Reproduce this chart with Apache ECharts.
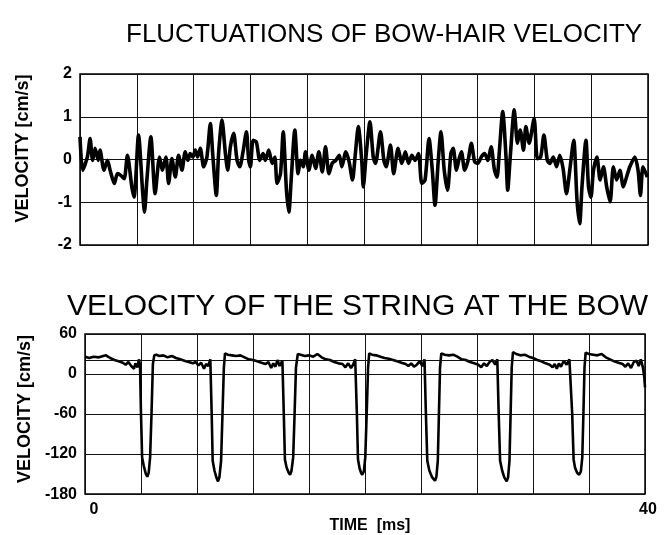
<!DOCTYPE html>
<html>
<head>
<meta charset="utf-8">
<script src="https://cdn.jsdelivr.net/npm/echarts@6/dist/echarts.min.js"></script>
<style>
html, body { margin: 0; padding: 0; background: #fff; }
#chart { width: 665px; height: 535px; }
</style>
</head>
<body>
<div id="chart"></div>
<script>
// top panel: fluctuations of bow-hair velocity (time ms, velocity cm/s)
const hairTime = [
  0, 0.19, 0.52, 0.71, 0.89, 1.06, 1.29, 1.41, 1.69, 1.93, 2.12, 2.42, 2.64, 2.87, 3.11, 3.34, 3.65, 3.81,
  4.12, 4.42, 4.54, 4.71, 4.99, 5.29, 5.6, 5.81, 6.05, 6.24, 6.47, 6.71, 6.94, 7.18, 7.41, 7.6, 7.76, 7.95,
  8.12, 8.28, 8.47, 8.71, 8.94, 9.18, 9.36, 9.6, 9.76, 10.0, 10.24, 10.4, 10.59, 10.82, 11.06, 11.25, 11.48,
  11.72, 11.88, 12.0, 12.19, 12.42, 12.66, 12.89, 13.06, 13.29, 13.53, 13.72, 13.88, 14.12, 14.31, 14.54,
  14.71, 14.87, 15.13, 15.36, 15.53, 15.72, 15.88, 16.12, 16.35, 16.59, 16.82, 17.06, 17.29, 17.53, 17.76,
  18.02, 18.26, 18.44, 18.72, 18.95, 19.19, 19.37, 19.6, 19.84, 19.95, 20.16, 20.42, 20.65, 20.81, 21.16,
  21.4, 21.56, 21.86, 22.09, 22.4, 22.67, 22.91, 23.14, 23.37, 23.6, 23.84, 24.07, 24.3, 24.58, 24.81, 25.0,
  25.23, 25.42, 25.65, 25.88, 26.12, 26.28, 26.51, 26.7, 26.86, 27.09, 27.33, 27.56, 27.79, 28.02, 28.26,
  28.49, 28.72, 28.95, 29.19, 29.37, 29.53, 29.77, 30.0, 30.12, 30.3, 30.58, 30.81, 31.0, 31.23, 31.4,
  31.63, 31.98, 32.21, 32.44, 32.67, 32.91, 33.09, 33.33, 33.56, 33.79, 34.02, 34.26, 34.49, 34.77, 35.0,
  35.19, 35.35, 35.63, 35.81, 35.98, 36.16, 36.4, 36.63, 36.86, 37.09, 37.33, 37.56, 37.79, 38.02, 38.26,
  38.49, 38.72, 39.07, 39.3, 39.47, 39.65, 39.95
];
const hairVelocity = [
  0.53, -0.25, 0.06, 0.49, -0.02, 0.26, -0.02, 0.22, -0.25, -0.02, -0.25, -0.56, -0.33, -0.37, -0.45, 0.1, -0.64, -0.88,
  0.57, -0.8, -1.23, -0.48, 0.53, -0.8, 0.06, -0.25, 0.06, -0.56, 0.02, -0.41, 0.1, -0.25, 0.18, -0.02, 0.14, 0.06,
  0.22, 0.06, 0.26, -0.17, 0.06, 0.84, 0.06, -0.84, 0.14, 0.92, 0.14, -0.25, 0.3, 0.61, -0.02, -0.17, 0.18,
  0.65, -0.02, -0.17, 0.45, 0.41, -0.02, 0.14, -0.02, 0.22, -0.09, 0.06, -0.56, -0.33, 0.65, -0.72,
  -1.23, -0.48, 0.69, -0.33, -0.02, -0.17, 0.18, -0.25, 0.1, -0.21, 0.18, -0.29, 0.3, -0.33, -0.09,
  -0.02, 0.1, -0.17, 0.18, -0.05, -0.48, 0.06, 0.77, -0.02, -0.64, 0.14, 0.88, 0.06, -0.09, 0.65,
  -0.02, -0.17, 0.34, -0.33, 0.26, -0.09, 0.18, -0.09, 0.1, -0.02, 0.14, -0.56, -0.48, 0.49, -0.25, -1.07,
  -0.02, 0.65, -0.25, -0.72, 0.14, 0.26, -0.25, 0.02, 0.18, -0.25, -0.02, 0.38, -0.05, -0.09, 0.06,
  0.14, -0.02, 0.3, -0.25, -0.41, 0.18, 1.12, 0.06, -0.72, 0.06, 1.16, 0.38, 0.69, 0.22, 0.77,
  0.38, 0.96, 0.02, 0.06, 0.57, -0.02, -0.09, 0.06, -0.17, 0.1, -0.21, -0.8, -0.25, 0.45, -0.95,
  -1.5, -0.64, 0.45, -0.64, -0.88, -0.25, 0.06, -0.48, -0.17, -0.64, -0.99, -0.17, -0.48, -0.25, -0.64,
  -0.41, -0.17, 0.06, -0.25, -0.84, -0.17, -0.41
];

// bottom panel: velocity of the string at the bow (time ms, velocity cm/s)
const stringTime = [
  0, 0.3, 0.6, 1.0, 1.3, 1.5, 1.8, 2.1, 2.4, 2.7, 2.9, 3.1, 3.3, 3.5, 3.6, 3.75, 3.85, 3.93,
  4.0, 4.08, 4.2, 4.35, 4.45, 4.55, 4.65, 4.75, 4.85, 4.95, 5.1, 5.3, 5.6, 5.9, 6.2, 6.5, 6.8, 7.1, 7.4,
  7.7, 7.9, 8.1, 8.3, 8.5, 8.65, 8.8, 8.95,
  9.05, 9.12, 9.25, 9.4, 9.5, 9.6, 9.72, 9.82, 9.92, 10.0, 10.2, 10.5, 10.8, 11.1, 11.4, 11.7, 12.0, 12.3,
  12.6, 12.9, 13.1, 13.3, 13.45, 13.6, 13.75, 13.9, 14.1,
  14.2, 14.28, 14.4, 14.55, 14.65, 14.75, 14.87, 14.97, 15.07, 15.2, 15.4, 15.7, 16.0, 16.3, 16.6, 16.9,
  17.2, 17.5, 17.8, 18.1, 18.4, 18.6, 18.8, 19.0, 19.15, 19.3,
  19.42, 19.5, 19.62, 19.72, 19.8, 19.92, 20.02, 20.12, 20.22, 20.3, 20.5, 20.8, 21.1, 21.4, 21.7, 22.0,
  22.3, 22.6, 22.9, 23.1, 23.3, 23.5, 23.7, 23.9, 24.1, 24.25,
  24.35, 24.45, 24.6, 24.8, 25.0, 25.1, 25.2, 25.28, 25.36, 25.45, 25.7, 26.0, 26.3, 26.6, 26.9, 27.2,
  27.5, 27.8, 28.1, 28.3, 28.5, 28.7, 28.9, 29.1, 29.3, 29.45,
  29.55, 29.65, 29.8, 29.95, 30.12, 30.22, 30.32, 30.4, 30.48, 30.57, 30.8, 31.1, 31.4, 31.7, 32.0, 32.3,
  32.6, 32.9, 33.2, 33.4, 33.55, 33.7, 33.85, 34.0, 34.2, 34.4, 34.6,
  34.8, 34.9, 35.0, 35.15, 35.3, 35.42, 35.52, 35.6, 35.68, 35.76, 36.0, 36.3, 36.6, 36.9, 37.2, 37.5,
  37.8, 38.1, 38.4, 38.6, 38.8, 39.0, 39.2, 39.4, 39.55, 39.7, 39.85, 39.95, 40.0
];
const stringVelocity = [
  26, 24, 26, 25, 27, 28, 24, 21, 19, 17, 14, 18, 12, 8, 16, 10, 22, 14,
  -60, -125, -138, -150, -154, -148, -125, -60, 15, 28, 29, 27, 28, 25, 27, 24, 22, 20, 18,
  16, 18, 13, 17, 8, 15, 12, 22,
  -60, -130, -145, -156, -161, -155, -130, -60, 10, 31, 29, 28, 27, 28, 25, 22, 21, 19,
  17, 15, 18, 9, 16, 11, 21, 12, 20,
  -60, -128, -140, -148, -151, -145, -125, -60, 10, 30, 29, 27, 28, 26, 30, 25,
  22, 21, 18, 16, 15, 10, 16, 9, 14, 22,
  -60, -128, -142, -148, -151, -146, -125, -60, 10, 31, 29, 28, 26, 24, 23, 21,
  19, 17, 15, 12, 16, 11, 14, 19, 12, 22,
  -60, -130, -145, -155, -160, -154, -130, -60, 10, 31, 29, 28, 29, 26, 22, 21,
  18, 16, 14, 10, 16, 12, 18, 21, 14, 22,
  -60, -130, -145, -155, -161, -155, -130, -60, 10, 33, 30, 28, 29, 26, 24, 21,
  19, 16, 14, 10, 15, 8, 16, 11, 20, 14, 22,
  -60, -128, -140, -148, -151, -146, -125, -60, 10, 32, 30, 29, 28, 30, 25, 22,
  19, 17, 15, 11, 16, 9, 18, 20, 12, 22, 10, -5, -20
];

const hairTicks = [-2, -1, 0, 1, 2];
const stringTicks = [-180, -120, -60, 0, 60];
const timeTicks = [0, 40];
const bowSpeed = 20;

const font = "'Liberation Sans', Arial, sans-serif";

const myChart = echarts.init(document.getElementById('chart'));

const timeAxis = (gridIndex, showLabels) => ({
  type: 'value',
  gridIndex: gridIndex,
  min: timeTicks[0],
  max: timeTicks[timeTicks.length - 1],
  interval: 4,
  axisLine: { show: false },
  axisTick: { show: false },
  splitLine: { show: true, lineStyle: { color: '#111', width: 1 } },
  axisLabel: {
    show: showLabels,
    margin: 7,
    color: '#000',
    fontFamily: font,
    fontWeight: 'bold',
    fontSize: 16,
    formatter: (v) => (timeTicks.indexOf(v) >= 0 ? (v === 0 ? '{z|' + v + '}' : '{f|' + v + '}') : ''),
    rich: {
      z: { padding: [0, 0, 0, 18], fontFamily: font, fontWeight: 'bold', fontSize: 16, color: '#000' },
      f: { padding: [0, 0, 0, 6], fontFamily: font, fontWeight: 'bold', fontSize: 16, color: '#000' }
    }
  },
  name: showLabels ? 'TIME  [ms]' : '',
  nameLocation: 'middle',
  nameGap: 14,
  nameTextStyle: { color: '#000', fontFamily: font, fontWeight: 'bold', fontSize: 16, padding: [0, 0, 0, 10] }
});

const velocityAxis = (gridIndex, ticks, gap, shift) => ({
  type: 'value',
  gridIndex: gridIndex,
  min: ticks[0],
  max: ticks[ticks.length - 1],
  interval: ticks[1] - ticks[0],
  axisLine: { show: false },
  axisTick: { show: false },
  splitLine: { show: true, lineStyle: { color: '#111', width: 1 } },
  axisLabel: { margin: 8, color: '#000', fontFamily: font, fontWeight: 'bold', fontSize: 16 },
  name: 'VELOCITY [cm/s]',
  nameLocation: 'middle',
  nameGap: gap,
  nameTextStyle: { color: '#000', fontFamily: font, fontWeight: 'bold', fontSize: 18, padding: [0, 0, 0, shift] }
});

let option = {
  backgroundColor: '#fff',
  animation: false,
  title: [
    {
      text: 'FLUCTUATIONS OF BOW-HAIR VELOCITY',
      left: 121,
      top: 17,
      textStyle: { color: '#000', fontFamily: font, fontWeight: 'normal', fontSize: 26 }
    },
    {
      text: 'VELOCITY OF THE STRING AT THE BOW',
      left: 62,
      top: 287,
      textStyle: { color: '#000', fontFamily: font, fontWeight: 'normal', fontSize: 30 }
    }
  ],
  grid: [
    { left: 80, top: 74, width: 568, height: 171, show: true, borderColor: '#000', borderWidth: 1.5, backgroundColor: 'transparent' },
    { left: 85, top: 334, width: 560, height: 174, show: true, borderColor: '#000', borderWidth: 1.5, backgroundColor: 'transparent' }
  ],
  xAxis: [timeAxis(0, false), timeAxis(1, true)],
  yAxis: [velocityAxis(0, hairTicks, 48, 22), velocityAxis(1, stringTicks, 43, 10)],
  series: [
    {
      name: 'bow hair',
      type: 'line',
      xAxisIndex: 0,
      yAxisIndex: 0,
      data: hairTime.map((t, i) => [t, hairVelocity[i]]),
      showSymbol: false,
      smooth: 0.25,
      lineStyle: { color: '#000', width: 3.6 }
    },
    {
      name: 'string',
      type: 'line',
      xAxisIndex: 1,
      yAxisIndex: 1,
      data: stringTime.map((t, i) => [t, stringVelocity[i]]),
      showSymbol: false,
      lineStyle: { color: '#000', width: 2.6 },
      markLine: {
        silent: true,
        symbol: 'none',
        label: { show: false },
        lineStyle: { color: '#111', width: 1, type: 'solid' },
        data: [{ yAxis: bowSpeed }]
      }
    }
  ]
};

myChart.setOption(option);
window.addEventListener('resize', () => {
  myChart.resize();
});
</script>
</body>
</html>
